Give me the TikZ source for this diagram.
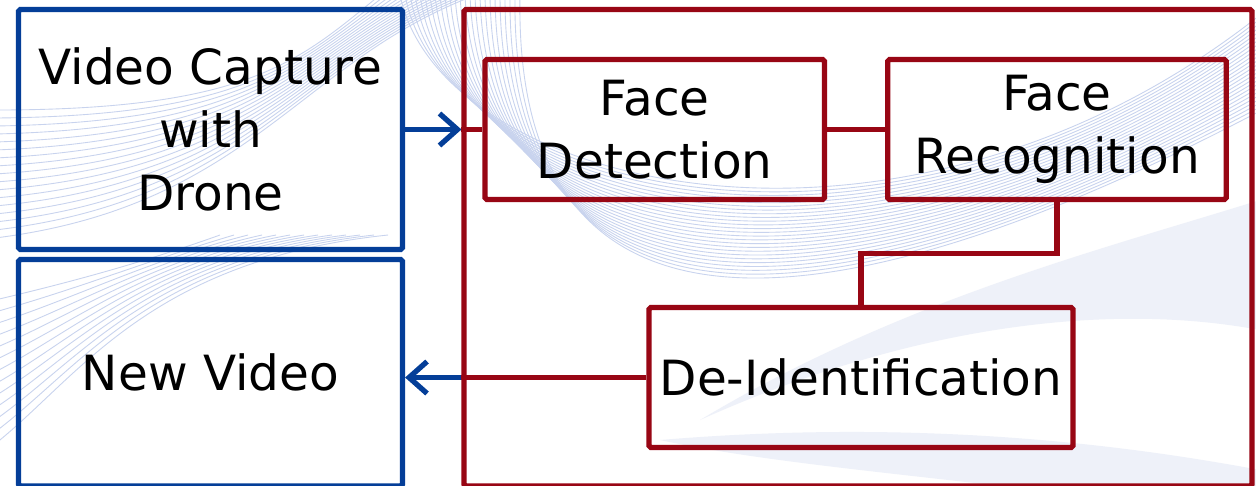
\documentclass[tikz,border=0pt]{standalone}
\usepackage{fontspec}
\setmainfont{DejaVu Sans}
\usetikzlibrary{arrows.meta}
\definecolor{boxblue}{RGB}{4,62,152}
\definecolor{boxred}{RGB}{152,6,20}
\definecolor{wave}{RGB}{200,211,238}
\definecolor{wavefill}{RGB}{238,241,249}

\begin{document}
\begin{tikzpicture}[
    x=0.02cm, y=-0.02cm,
    every node/.style={font=\fontsize{27.6}{35.8}\selectfont, align=center, inner sep=0pt},
    bluebox/.style={draw=boxblue, line width=3pt, rounded corners=1pt},
    redbox/.style={draw=boxred, line width=3pt, rounded corners=1pt},
    redline/.style={boxred, line width=3pt},
    flow/.style={boxblue, line width=3pt, -{Straight Barb[length=3.6mm,width=6.4mm]}},
    waveline/.style={wave, line width=0.5pt},
]

% Frame of the page
\useasboundingbox (0,0) rectangle (1256,485);
\clip (0,0) rectangle (1256,485);
\fill[white] (0,0) rectangle (1256,485);

% Background waves
\fill[wavefill] (700,420) .. controls (900,300) and (1100,250) .. (1260,200)
    -- (1260,330) .. controls (1100,300) and (900,330) .. (700,420);
\fill[wavefill] (660,440) .. controls (900,420) and (1100,440) .. (1260,470)
    -- (1260,520) .. controls (1000,480) and (800,470) .. (660,440);
\foreach \k in {0,...,24}
    \draw[waveline] (400+\k*5,-5) .. controls (440+\k*3,190+\k*9) and (900,300) .. (1260,15+\k*4);
\foreach \k in {0,...,16}
    \draw[waveline] (-5,110+\k*8) .. controls (250,110+\k*6) and (300,60) .. (380+\k*6,-5);
\foreach \k in {0,...,12}
    \draw[waveline] (-5,300+\k*12) .. controls (80,280+\k*8) and (150,260) .. (220+\k*14,235);

% Blocks
\node[bluebox, minimum width=7.68cm, minimum height=4.8cm] (cap) at (210.5,129.5) {Video Capture\\with\\Drone};
\node[bluebox, minimum width=7.68cm, minimum height=4.53cm] (newvid) at (210.5,372.75) {New Video};
\node[redbox, minimum width=15.76cm, minimum height=9.53cm] (proc) at (858,247.75) {};
\node[redbox, minimum width=6.79cm, minimum height=2.8cm] (fdet) at (654.75,129.5) {Face\\Detection};
\node[redbox, minimum width=6.77cm, minimum height=2.8cm] (frec) at (1056.9,129.5) {Face\\Recognition};
\node[redbox, minimum width=8.48cm, minimum height=2.8cm] (deid) at (861,377.5) {De-Identification};

% Connectors
\draw[flow] (cap.east) -- (cap.east -| proc.west);
\draw[redline] (fdet.west -| proc.west) -- (fdet.west);
\draw[redline] (fdet) -- (frec);
\draw[redline] (frec.south) -- ++(0,51.5) -| (deid.north);
\draw[redline] (deid.west) -- (deid.west -| proc.west);
\draw[flow] (deid.west -| proc.west) -- (deid.west -| newvid.east);

\end{tikzpicture}
\end{document}
